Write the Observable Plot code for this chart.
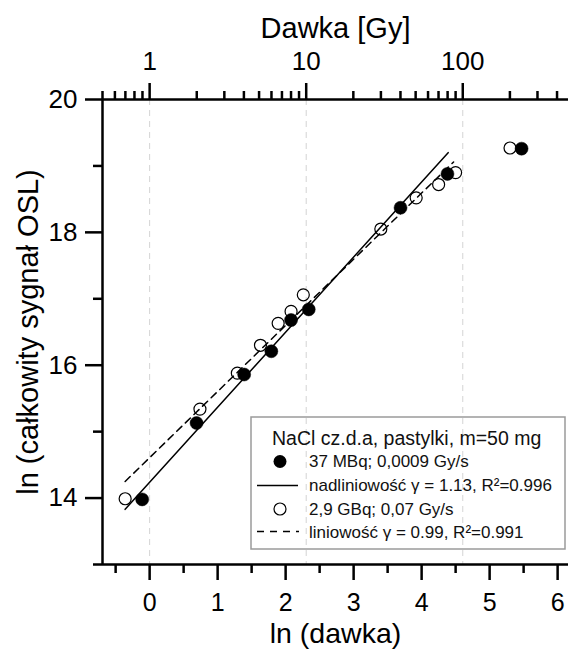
<!DOCTYPE html>
<html>
<head>
<meta charset="utf-8">
<script src="https://cdn.jsdelivr.net/npm/d3@7"></script>
<script src="https://cdn.jsdelivr.net/npm/@observablehq/plot@0.6"></script>
<style>
  body { margin: 0; background: white; }
  #wrap { position: relative; width: 568px; height: 650px; font-family: "Liberation Sans", Arial, sans-serif; }
  #legend { position: absolute; left: 0; top: 0; pointer-events: none; }
</style>
</head>
<body>
<div id="wrap"></div>
<script>
// ---- data ----
const filledX = [-0.11, 0.69, 1.39, 1.79, 2.08, 2.34, 3.69, 4.38, 5.47];
const filledY = [13.98, 15.13, 15.86, 16.21, 16.68, 16.84, 18.37, 18.88, 19.26];
const openX = [-0.36, 0.74, 1.29, 1.63, 1.89, 2.08, 2.26, 3.40, 3.92, 4.25, 4.50, 5.30];
const openY = [13.99, 15.34, 15.88, 16.30, 16.63, 16.81, 17.06, 18.05, 18.52, 18.72, 18.90, 19.27];
const fitSolidX = [-0.36, 4.39];
const fitSolidY = [13.83, 19.20];
const fitDashX = [-0.36, 4.47];
const fitDashY = [14.25, 19.06];

const xMajorTicks = [0, 1, 2, 3, 4, 5, 6];
const xMinorTicks = [-0.5, 0.5, 1.5, 2.5, 3.5, 4.5, 5.5];
const yMajorTicks = [14, 16, 18, 20];
const yMinorTicks = [13, 15, 17, 19];
const doseMajor = [1, 10, 100];
const doseMinor = [0.5, 0.6, 0.7, 0.8, 0.9, 2, 3, 4, 5, 6, 7, 8, 9, 20, 30, 40, 50, 60, 70, 80, 90, 200, 300, 400];

const xTitle = "ln (dawka)";
const yTitle = "ln (całkowity sygnał OSL)";
const topTitle = "Dawka [Gy]";
const legendTitle = "NaCl cz.d.a, pastylki, m=50 mg";
const legendLabels = ["37 MBq; 0,0009 Gy/s", "nadliniowość γ = 1.13, R²=0.996", "2,9 GBq; 0,07 Gy/s", "liniowość γ = 0.99, R²=0.991"];

const filled = filledX.map((x, i) => ({x, y: filledY[i]}));
const open = openX.map((x, i) => ({x, y: openY[i]}));
const fitSolid = fitSolidX.map((x, i) => ({x, y: fitSolidY[i]}));
const fitDash = fitDashX.map((x, i) => ({x, y: fitDashY[i]}));

const xMin = Math.log(0.5);
const AX = 2.5;
const FONT = '"Liberation Sans", Arial, sans-serif';

const chart = Plot.plot({
  width: 568,
  height: 650,
  marginLeft: 102,
  marginRight: 0,
  marginTop: 99,
  marginBottom: 86,
  style: {fontFamily: FONT, background: "white", color: "black", overflow: "visible"},
  x: {domain: [xMin, 6.16], label: null},
  y: {domain: [13, 20], label: null},
  marks: [
    Plot.ruleX(doseMajor.map(Math.log), {stroke: "#d4d4d4", strokeWidth: 1, strokeDasharray: "6,5"}),
    Plot.line(fitSolid, {x: "x", y: "y", stroke: "black", strokeWidth: 1.5}),
    Plot.line(fitDash, {x: "x", y: "y", stroke: "black", strokeWidth: 1.5, strokeDasharray: "7,5"}),
    Plot.dot(open, {x: "x", y: "y", r: 6, stroke: "black", strokeWidth: 1.2, fill: "none"}),
    Plot.dot(filled, {x: "x", y: "y", r: 6.5, fill: "black", stroke: "black", strokeWidth: 0.5}),
    // axis lines
    Plot.ruleY([13], {stroke: "black", strokeWidth: AX}),
    Plot.ruleY([20], {stroke: "black", strokeWidth: AX}),
    Plot.ruleX([xMin], {stroke: "black", strokeWidth: AX}),
    // bottom axis
    Plot.axisX(xMajorTicks, {anchor: "bottom", label: null, tickSize: 16, tickPadding: 13, fontSize: 25, strokeWidth: AX, stroke: "black", fill: "black",
      tickFormat: (d) => String(d)}),
    Plot.axisX(xMinorTicks, {anchor: "bottom", label: null, tickSize: 9, tickFormat: () => "", strokeWidth: AX, stroke: "black"}),
    // top (dose) axis
    Plot.axisX(doseMajor.map(Math.log), {anchor: "top", label: null, tickSize: 17, tickPadding: 13, fontSize: 26, strokeWidth: AX, stroke: "black", fill: "black",
      tickFormat: (d) => String(Math.round(Math.exp(d)))}),
    Plot.axisX(doseMinor.map(Math.log), {anchor: "top", label: null, tickSize: 9, tickFormat: () => "", strokeWidth: AX, stroke: "black"}),
    // left axis
    Plot.axisY(yMajorTicks, {anchor: "left", label: null, tickSize: 17, tickPadding: 8, fontSize: 26, strokeWidth: AX, stroke: "black", fill: "black",
      tickFormat: (d) => String(d)}),
    Plot.axisY(yMinorTicks, {anchor: "left", label: null, tickSize: 9, tickFormat: () => "", strokeWidth: AX, stroke: "black"}),
    // axis titles
    Plot.text([xTitle], {frameAnchor: "bottom", lineAnchor: "middle", textAnchor: "middle", dy: 69, fontSize: 28.5, fill: "black"}),
    Plot.text([topTitle], {frameAnchor: "top", lineAnchor: "middle", textAnchor: "middle", dy: -71, fontSize: 29, fill: "black"}),
    Plot.text([yTitle], {frameAnchor: "left", lineAnchor: "middle", textAnchor: "middle", dx: -74, rotate: -90, fontSize: 29, fill: "black"})
  ]
});

const wrap = document.getElementById("wrap");
wrap.appendChild(chart);

// ---- legend overlay ----
const svg = d3.select(wrap).append("svg")
  .attr("id", "legend").attr("width", 568).attr("height", 650)
  .style("font-family", FONT);

svg.append("rect").attr("x", 251).attr("y", 417).attr("width", 314).attr("height", 132)
  .attr("fill", "none").attr("stroke", "#9a9a9a").attr("stroke-width", 1.5);
svg.append("text").attr("x", 272).attr("y", 445).attr("font-size", 19.5).attr("fill", "#111").text(legendTitle);

const rowBase = [466.5, 491, 515, 538];
const rowMid = [461.5, 485.5, 509, 531.5];
svg.append("circle").attr("cx", 280).attr("cy", rowMid[0]).attr("r", 6.5).attr("fill", "black");
svg.append("line").attr("x1", 257).attr("x2", 298).attr("y1", rowMid[1]).attr("y2", rowMid[1]).attr("stroke", "black").attr("stroke-width", 1.5);
svg.append("circle").attr("cx", 280).attr("cy", rowMid[2]).attr("r", 6).attr("fill", "none").attr("stroke", "black").attr("stroke-width", 1.2);
svg.append("line").attr("x1", 257).attr("x2", 299).attr("y1", rowMid[3]).attr("y2", rowMid[3]).attr("stroke", "black").attr("stroke-width", 1.5).attr("stroke-dasharray", "7,6");

legendLabels.forEach((t, i) => {
  svg.append("text").attr("x", 309).attr("y", rowBase[i]).attr("font-size", 17).attr("fill", "#111").text(t);
});
</script>
</body>
</html>
